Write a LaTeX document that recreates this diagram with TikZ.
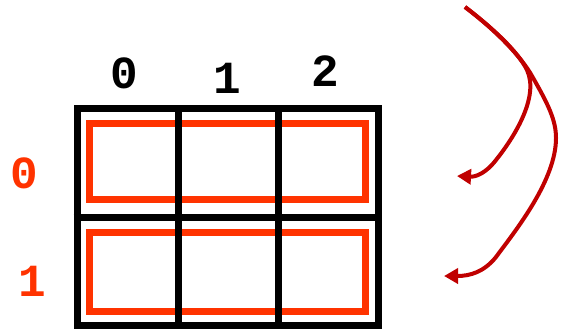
\documentclass[tikz,border=0pt]{standalone}
\usepackage{fontspec}
\setmonofont{Liberation Mono}
\usetikzlibrary{arrows.meta}
\definecolor{hl}{HTML}{FF3300}
\definecolor{arr}{HTML}{C00000}
\tikzset{
  gridline/.style={line width=7pt, draw=black},
  rowbox/.style={line width=7pt, draw=hl},
  collab/.style={font=\ttfamily\bfseries\fontsize{46}{46}\selectfont, text=black, inner sep=0pt},
  rowlab/.style={font=\ttfamily\bfseries\fontsize{46}{46}\selectfont, text=hl, inner sep=0pt},
  curvarrow/.style={line width=4pt, draw=arr, -{Triangle[length=14pt,width=15pt]}}
}
\begin{document}
\begin{tikzpicture}[x=1pt,y=-1pt]
\useasboundingbox (0,0) rectangle (564,333);
% red row boxes
\draw[rowbox] (89,123) rectangle (365,199);
\draw[rowbox] (89,232) rectangle (365,311);
% grid
\node[gridline, minimum width=301pt, minimum height=217pt, inner sep=0pt] (grid) at (227.5,217) {};
\draw[gridline] (grid.north west -| 178,0) -- (grid.south west -| 178,0);
\draw[gridline] (grid.north west -| 278,0) -- (grid.south west -| 278,0);
\draw[gridline] (grid.west) -- (grid.east);
% labels
\node[collab] (c0) at (124,73) {0};
\node[collab] (c1) at (227,78) {1};
\node[collab] (c2) at (325,71) {2};
\node[rowlab] (r0) at (24,173) {0};
\node[rowlab] (r1) at (32,281) {1};
% arrows
\coordinate (s) at (465,7);
\coordinate (e0) at (457,176);
\coordinate (e1) at (444,276);
\draw[curvarrow] (s) .. controls (495,30) and (518,52) .. (527,70)
  .. controls (540,98) and (512,140) .. (496,160)
  .. controls (486,173) and (476,177) .. (e0);
\draw[curvarrow] (s) .. controls (498,32) and (522,58) .. (532,76)
  .. controls (548,104) and (556,120) .. (556,138)
  .. controls (556,180) and (516,230) .. (496,257)
  .. controls (484,272) and (470,276) .. (e1);
\end{tikzpicture}
\end{document}
